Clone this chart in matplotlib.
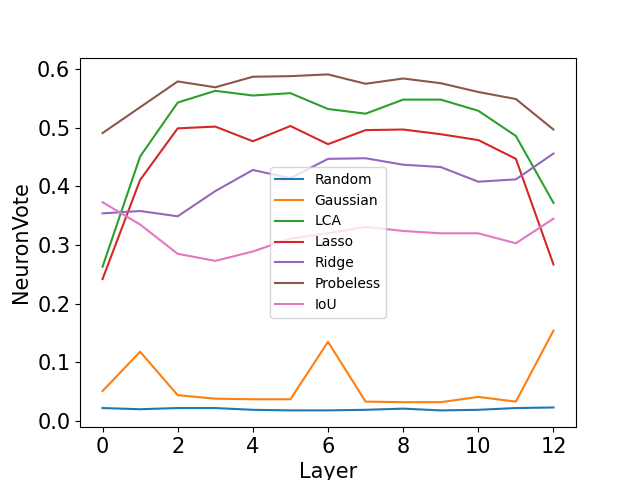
import matplotlib
matplotlib.use("Agg")
import matplotlib.pyplot as plt

layers = list(range(13))

random_vote = [0.022, 0.020, 0.022, 0.022, 0.019, 0.018, 0.018, 0.019, 0.021, 0.018, 0.019, 0.022, 0.023]
gaussian_vote = [0.051, 0.118, 0.044, 0.038, 0.037, 0.037, 0.135, 0.033, 0.032, 0.032, 0.041, 0.033, 0.154]
lca_vote = [0.263, 0.451, 0.543, 0.563, 0.555, 0.559, 0.532, 0.524, 0.548, 0.548, 0.529, 0.486, 0.372]
lasso_vote = [0.242, 0.411, 0.499, 0.502, 0.477, 0.503, 0.472, 0.496, 0.497, 0.489, 0.479, 0.447, 0.267]
ridge_vote = [0.354, 0.358, 0.349, 0.392, 0.428, 0.414, 0.447, 0.448, 0.437, 0.433, 0.408, 0.412, 0.456]
probeless_vote = [0.491, 0.535, 0.579, 0.569, 0.587, 0.588, 0.591, 0.575, 0.584, 0.576, 0.561, 0.549, 0.497]
iou_vote = [0.373, 0.335, 0.285, 0.273, 0.289, 0.311, 0.320, 0.331, 0.324, 0.320, 0.320, 0.303, 0.345]

series = [
    ("Random", random_vote),
    ("Gaussian", gaussian_vote),
    ("LCA", lca_vote),
    ("Lasso", lasso_vote),
    ("Ridge", ridge_vote),
    ("Probeless", probeless_vote),
    ("IoU", iou_vote),
]

fig, ax = plt.subplots(figsize=(6.4, 4.8), dpi=100)
for name, vals in series:
    ax.plot(layers, vals, label=name)

ax.set_xlabel("Layer", fontsize=15)
ax.set_ylabel("NeuronVote", fontsize=15)
ax.set_xticks(range(0, 13, 2))
ax.tick_params(labelsize=15)
ax.legend(loc="center")

fig.savefig("out.png")
